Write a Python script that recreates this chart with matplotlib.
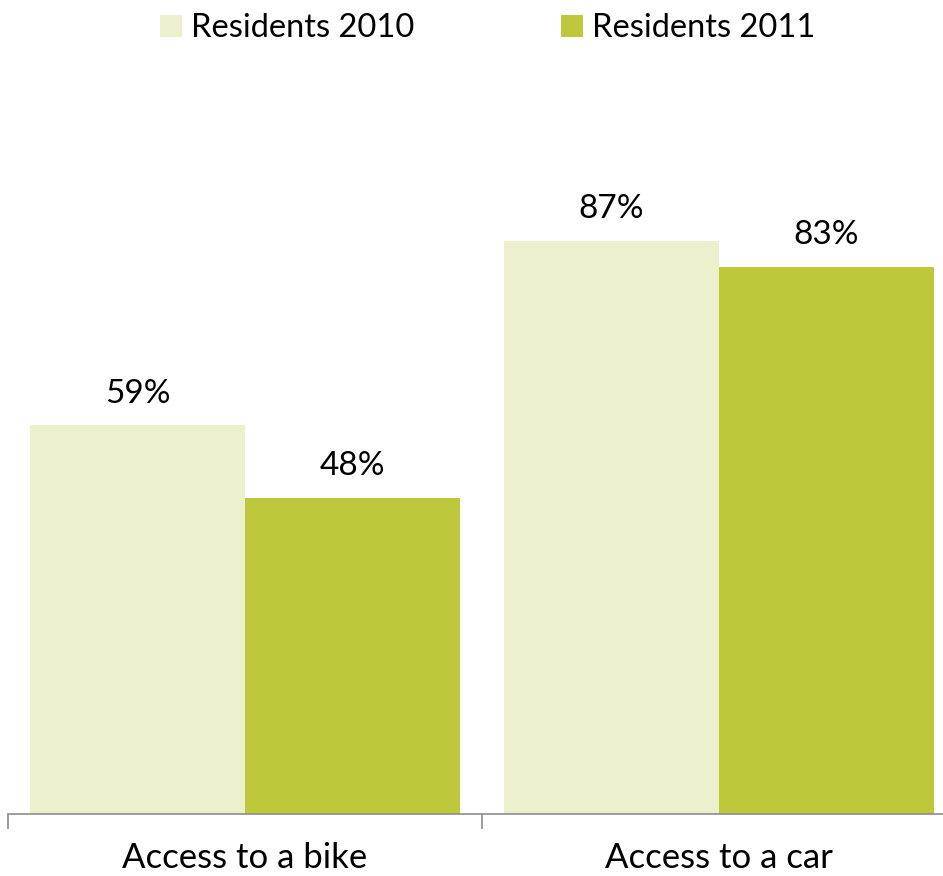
import numpy as np
import matplotlib
matplotlib.use('Agg')
import matplotlib.pyplot as plt

# Share of residents with access to transport
categories = ['Access to a bike', 'Access to a car']
series = ['Residents 2010', 'Residents 2011']
res2010 = [59, 87]
res2011 = [48, 83]
colors = ['#EDF0CD', '#BDC93A']

plt.rcParams['font.family'] = ['Lato', 'DejaVu Sans']

fig = plt.figure(figsize=(9.43, 8.76), dpi=100)
ax = fig.add_axes([8/943, (876-814)/876, 948/943, 659/876])

x = np.arange(len(categories))
w = 0.4536
b1 = ax.bar(x - w/2, res2010, w, color=colors[0], label=series[0])
b2 = ax.bar(x + w/2, res2011, w, color=colors[1], label=series[1])

for bars, vals in ((b1, res2010), (b2, res2011)):
    for rect, v in zip(bars, vals):
        ax.annotate('%d%%' % v, (rect.get_x() + rect.get_width()/2, v),
                    xytext=(0, 12), textcoords='offset points',
                    ha='center', va='bottom', fontsize=24)

ax.set_xlim(-0.5, 1.5)
ax.set_ylim(0, 100)
ax.set_yticks([])
for s in ['top', 'right', 'left']:
    ax.spines[s].set_visible(False)
ax.spines['bottom'].set_color('#8c8c8c')
ax.spines['bottom'].set_linewidth(1.2)

# ticks sit on the category boundaries, labels at the centres
ax.set_xticks([-0.5, 0.5, 1.5])
ax.set_xticklabels([])
ax.tick_params(axis='x', length=11, width=1.2, color='#8c8c8c')
ax.set_xticks(x, minor=True)
ax.set_xticklabels(categories, minor=True, fontsize=25)
ax.tick_params(axis='x', which='minor', length=0, pad=20)

fig.legend(handles=[b1, b2], loc='upper left', bbox_to_anchor=(147/943, 1.0),
           ncol=2, frameon=False, fontsize=23.5, handlelength=0.66,
           handleheight=0.66, handletextpad=0.28, columnspacing=4.5,
           borderaxespad=0)

fig.savefig('out.png', dpi=100)
